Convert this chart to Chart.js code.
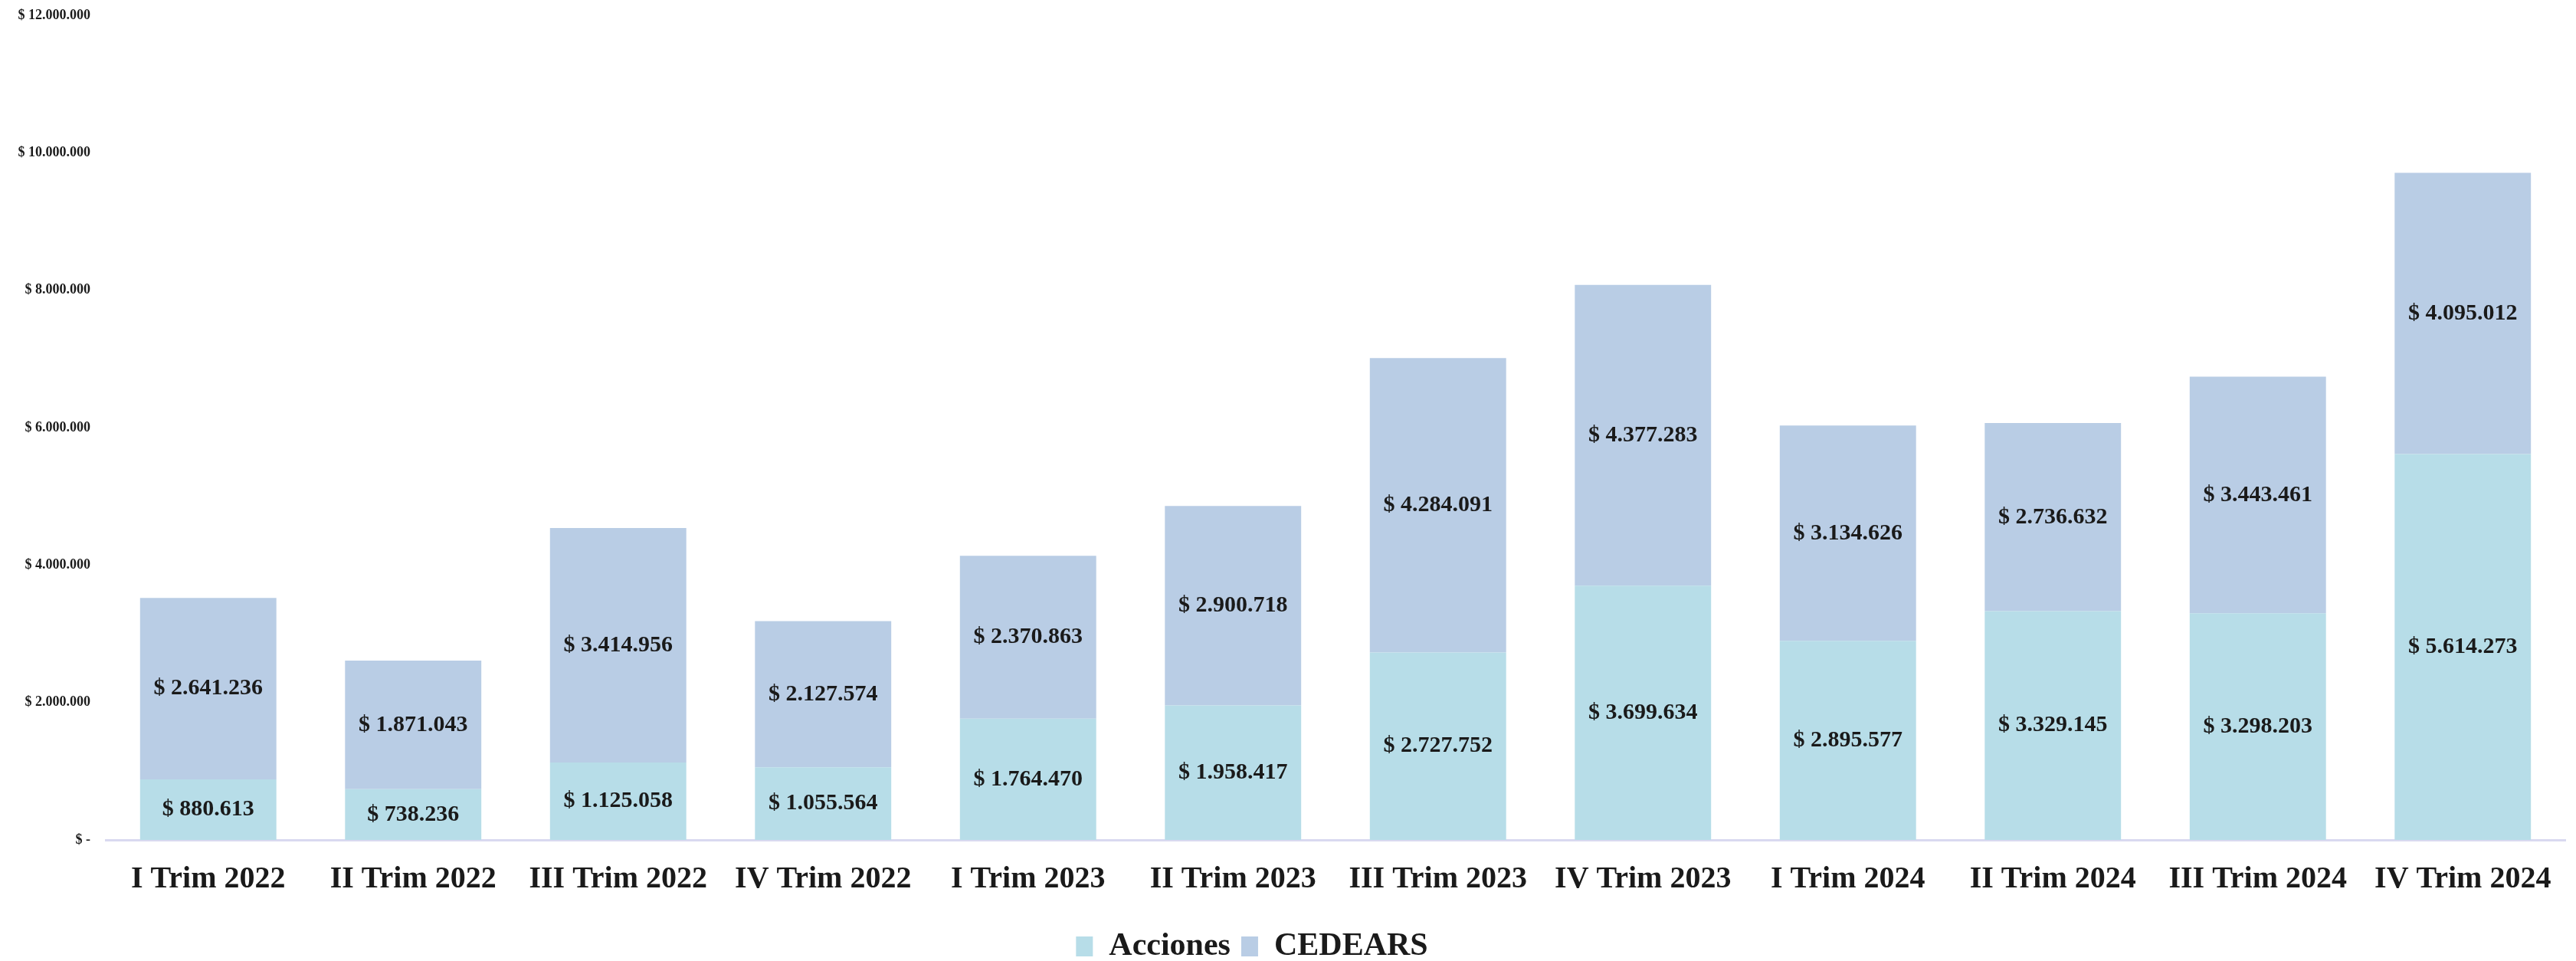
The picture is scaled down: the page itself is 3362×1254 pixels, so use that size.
<!DOCTYPE html>
<html>
<head>
<meta charset="utf-8">
<script src="https://cdn.jsdelivr.net/npm/chart.js@4/dist/chart.umd.min.js"></script>
<style>
  html, body { margin: 0; padding: 0; background: #fff; }
  #wrap { width: 3362px; height: 1254px; }
</style>
</head>
<body>
<div id="wrap"><canvas id="trimChart"></canvas></div>
<script>
const trimestres = ['I Trim 2022', 'II Trim 2022', 'III Trim 2022', 'IV Trim 2022',
  'I Trim 2023', 'II Trim 2023', 'III Trim 2023', 'IV Trim 2023',
  'I Trim 2024', 'II Trim 2024', 'III Trim 2024', 'IV Trim 2024'];
const acciones = [880613, 738236, 1125058, 1055564, 1764470, 1958417,
  2727752, 3699634, 2895577, 3329145, 3298203, 5614273];
const cedears = [2641236, 1871043, 3414956, 2127574, 2370863, 2900718,
  4284091, 4377283, 3134626, 2736632, 3443461, 4095012];
const yTicks = [0, 2000000, 4000000, 6000000, 8000000, 10000000, 12000000];

const FONT = "'Liberation Serif', serif";

// pesos with dot thousands separator, zero shown as a dash
const pesos = (v) => v === 0 ? '$ -' : '$ ' + Math.round(v).toString().replace(/\B(?=(\d{3})+(?!\d))/g, '.');

// write each segment's value in the middle of its bar piece
const segmentLabels = {
  id: 'segmentLabels',
  afterDatasetsDraw(chart) {
    const ctx = chart.ctx;
    ctx.save();
    ctx.font = 'bold 30px ' + FONT;
    ctx.fillStyle = '#1a1a1a';
    ctx.textAlign = 'center';
    ctx.textBaseline = 'middle';
    chart.data.datasets.forEach((ds, i) => {
      chart.getDatasetMeta(i).data.forEach((bar, j) => {
        const { x, y, base } = bar.getProps(['x', 'y', 'base'], true);
        ctx.fillText(pesos(ds.data[j]), x, (y + base) / 2);
      });
    });
    ctx.restore();
  }
};

// legend sits a bit left of the page centre
const legendShift = {
  id: 'legendShift',
  afterLayout(chart) {
    if (chart.legend) {
      chart.legend.left -= 40;
      chart.legend.right -= 40;
    }
  }
};

new Chart(document.getElementById('trimChart'), {
  type: 'bar',
  data: {
    labels: trimestres,
    datasets: [
      { label: 'Acciones', data: acciones, backgroundColor: '#b7dde8' },
      { label: 'CEDEARS', data: cedears, backgroundColor: '#b9cde5' }
    ]
  },
  options: {
    responsive: true,
    maintainAspectRatio: false,
    animation: false,
    layout: { padding: { top: 20, right: 14, left: 0, bottom: -12 } },
    datasets: { bar: { categoryPercentage: 1, barPercentage: 0.665 } },
    scales: {
      x: {
        stacked: true,
        grid: { display: false, drawTicks: false },
        border: { color: '#d9d9f0', width: 3 },
        ticks: {
          color: '#1a1a1a', padding: 28, maxRotation: 0, autoSkip: false,
          font: { family: FONT, size: 40, weight: 'bold' }
        }
      },
      y: {
        stacked: true,
        min: 0,
        max: 12000000,
        afterBuildTicks: (axis) => { axis.ticks = yTicks.map(v => ({ value: v })); },
        afterFit: (axis) => { axis.width = 138; axis.paddingTop = 0; },
        grid: { display: false, drawTicks: false },
        border: { display: false },
        ticks: { color: '#1a1a1a', padding: 20, callback: (v) => pesos(v), font: { family: FONT, size: 18, weight: 'bold' } }
      }
    },
    plugins: {
      tooltip: { enabled: false },
      legend: {
        position: 'bottom',
        labels: {
          color: '#1a1a1a',
          boxWidth: 22,
          boxHeight: 26,
          padding: 14,
          font: { family: FONT, size: 42, weight: 'bold' }
        }
      }
    }
  },
  plugins: [segmentLabels, legendShift]
});
</script>
</body>
</html>
